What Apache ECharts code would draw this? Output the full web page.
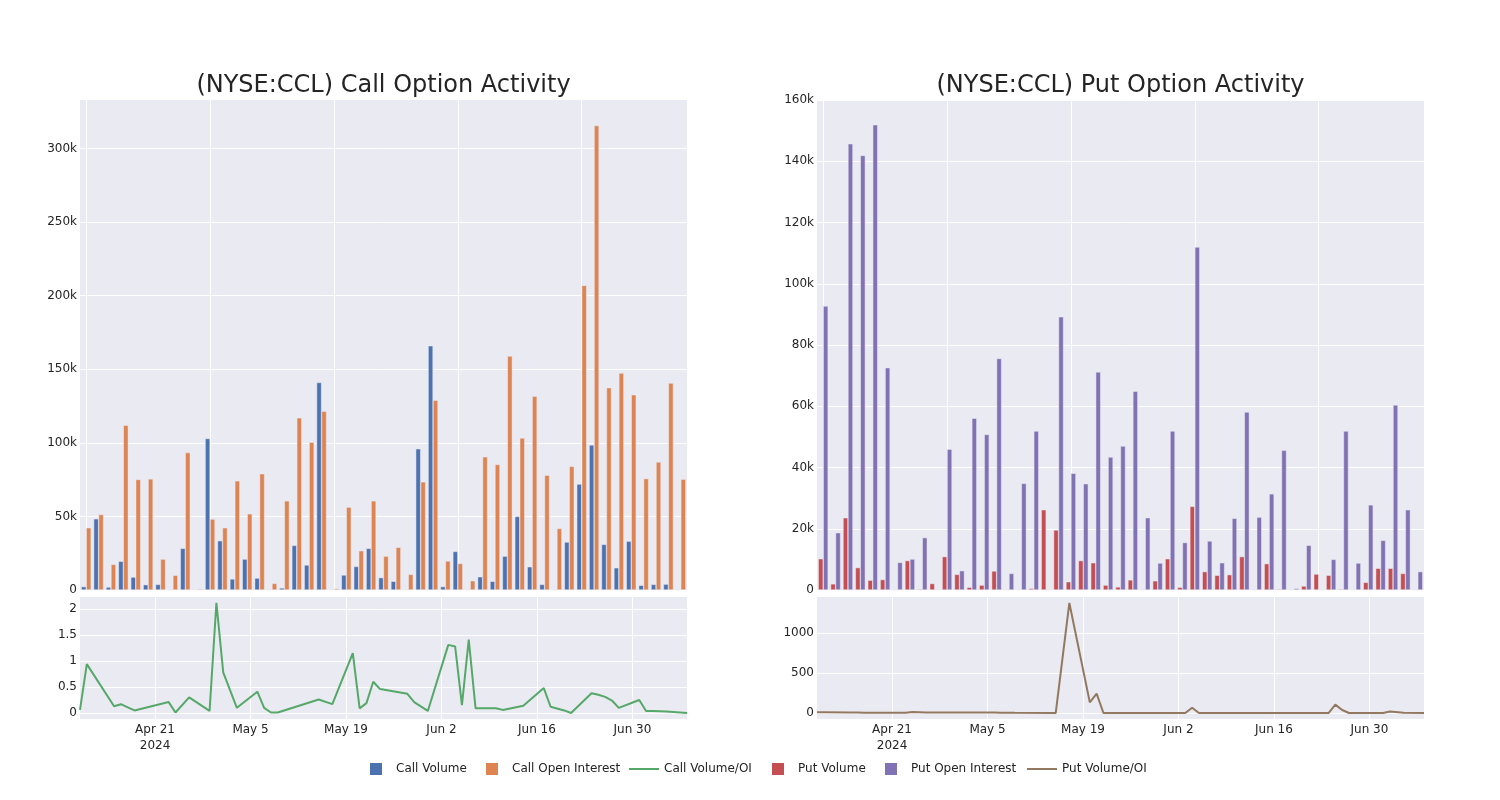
<!DOCTYPE html>
<html><head><meta charset="utf-8">
<script src="https://cdn.jsdelivr.net/npm/echarts@6/dist/echarts.min.js"></script>
<style>html,body{margin:0;padding:0;background:#fff}#c{width:1500px;height:800px}</style>
</head><body><div id="c"></div>
<script>
const dates = ['2024-04-10','2024-04-11','2024-04-15','2024-04-16','2024-04-17','2024-04-18','2024-04-23','2024-04-24','2024-04-26','2024-04-29','2024-04-30','2024-05-01','2024-05-03','2024-05-06','2024-05-07','2024-05-08','2024-05-09','2024-05-15','2024-05-17','2024-05-20','2024-05-21','2024-05-22','2024-05-23','2024-05-24','2024-05-28','2024-05-29','2024-05-31','2024-06-03','2024-06-04','2024-06-05','2024-06-06','2024-06-07','2024-06-10','2024-06-11','2024-06-14','2024-06-17','2024-06-18','2024-06-20','2024-06-21','2024-06-24','2024-06-25','2024-06-26','2024-06-27','2024-06-28','2024-07-01','2024-07-02','2024-07-03','2024-07-05','2024-07-08'];
const callVolume = [2300,48400,2000,19500,8800,3600,3800,0,28300,0,103000,33500,7500,21000,8100,100,1400,30300,17000,141000,100,10200,16000,28300,8400,5900,300,96000,166000,2300,26200,300,9000,5900,23000,50000,15800,3800,0,32600,72000,98600,31000,15100,33200,3200,3800,4000,0];
const callOpenInterest = [42300,51300,17400,112000,75100,75500,21000,10000,93400,700,48200,42300,74200,51800,79000,4500,60600,117000,100400,121500,900,56300,26700,60600,23000,29000,10600,73500,129000,19700,18000,6300,90500,85300,159000,103300,131600,78000,41800,84000,207000,315600,137500,147400,132700,75700,87000,140600,75300];
const callRatio = [0.06,0.94,0.13,0.17,0.11,0.05,0.21,0.01,0.30,0.04,2.12,0.78,0.10,0.41,0.10,0.01,0.01,0.26,0.17,1.15,0.09,0.19,0.60,0.46,0.37,0.21,0.04,1.31,1.28,0.15,1.41,0.09,0.09,0.06,0.14,0.48,0.12,0.05,0.0,0.38,0.35,0.31,0.24,0.10,0.25,0.04,0.04,0.03,0.0];
const putVolume = [10200,2000,23600,7300,3200,3400,0,9600,300,2100,10900,5100,900,1600,6200,0,100,500,26200,19600,2700,9600,8900,1600,1000,3300,100,3000,10200,900,27300,6000,4800,5000,10900,0,8600,300,0,1300,5200,4800,300,100,2500,7100,7100,5400,0];
const putOpenInterest = [92700,18700,145700,141900,151900,72600,9000,10100,17100,200,46000,6300,56100,50800,75600,5400,34800,51900,20,89200,38100,34700,71200,43400,47000,64900,23600,8800,51900,15500,112000,16000,8900,23400,58100,23800,31400,45600,500,14600,0,10000,51900,8800,27800,16200,60400,26200,6000];
const putRatio = [9,9,6,5,4,3,3,12,5,7,6,6,5,5,4,3,2,0,1380,134,243,0,0,0,0,0,0,0,67,0,0,0,0,0,0,0,0,0,0,0,105,38,0,0,0,0,20,3,0];
const dateTicks = ['2024-04-21','2024-05-05','2024-05-19','2024-06-02','2024-06-16','2024-06-30'];
const dateTickLabels = ['Apr 21\n2024','May 5','May 19','Jun 2','Jun 16','Jun 30'];
const callYTicks = [0,50000,100000,150000,200000,250000,300000];
const putYTicks = [0,20000,40000,60000,80000,100000,120000,140000,160000];
const callRatioTicks = [0,0.5,1,1.5,2];
const putRatioTicks = [0,500,1000];
const categoryGridTicks = [0,10,20,30,40];

const FONT = 'DejaVu Sans';
const TXT = 'rgb(36,36,36)';
const BG = 'rgb(234,234,242)';
const COL = {cv:'rgb(76,114,176)', coi:'rgb(221,132,82)', cr:'rgb(85,168,104)', pv:'rgb(196,78,82)', poi:'rgb(129,114,179)', pr:'rgb(147,120,96)'};
const ts = s => Date.parse(s + 'T00:00:00Z');
const tickTs = dateTicks.map(ts);
const kFmt = v => v === 0 ? '0' : (v/1000) + 'k';

const L = 80, W = 607, R2 = 817;
const grids = [
  {left:L, top:100, width:W, height:490},
  {left:L, top:597, width:W, height:122},
  {left:R2, top:100, width:W, height:490},
  {left:R2, top:597, width:W, height:122}
].map(g => Object.assign(g, {show:true, backgroundColor:BG, borderWidth:0, containLabel:false}));

const label = {color:TXT, fontFamily:FONT, fontSize:12};
const yLabel = Object.assign({}, label, {margin:3, padding:[4,0,0,0]});
const split = {show:true, lineStyle:{color:'#fff', width:1}};
const noLine = {show:false};

function catAxis(gi){ return {type:'category', gridIndex:gi, data:dates, axisLine:noLine, axisTick:{show:false}, axisLabel:{show:false}, splitLine:{show:false}}; }
function gridAxis(gi){ return {type:'value', gridIndex:gi, min:-0.5, max:dates.length-0.5, position:'bottom', axisLine:noLine, axisLabel:{show:false, customValues:categoryGridTicks}, axisTick:{show:false, customValues:categoryGridTicks}, splitLine:split}; }
function dateAxis(gi){ return {type:'value', gridIndex:gi, min:ts(dates[0]), max:ts(dates[dates.length-1]), axisLine:noLine,
  axisTick:{show:false, customValues:tickTs},
  axisLabel:Object.assign({}, label, {customValues:tickTs, margin:3, lineHeight:16, formatter:v => { const i = tickTs.indexOf(v); return i >= 0 ? dateTickLabels[i] : ''; }}),
  splitLine:split}; }

const xAxis = [catAxis(0), gridAxis(0), dateAxis(1), catAxis(2), gridAxis(2), dateAxis(3)];
const yAxis = [
  {type:'value', gridIndex:0, min:0, max:333000, axisLine:noLine, axisTick:{show:false, customValues:callYTicks}, axisLabel:Object.assign({}, yLabel, {customValues:callYTicks, formatter:kFmt}), splitLine:split},
  {type:'value', gridIndex:1, min:-0.115, max:2.23, axisLine:noLine, axisTick:{show:false, customValues:callRatioTicks}, axisLabel:Object.assign({}, yLabel, {customValues:callRatioTicks, formatter:v => String(v)}), splitLine:split},
  {type:'value', gridIndex:2, min:0, max:160000, axisLine:noLine, axisTick:{show:false, customValues:putYTicks}, axisLabel:Object.assign({}, yLabel, {customValues:putYTicks, formatter:kFmt}), splitLine:split},
  {type:'value', gridIndex:3, min:-75, max:1455, axisLine:noLine, axisTick:{show:false, customValues:putRatioTicks}, axisLabel:Object.assign({}, yLabel, {customValues:putRatioTicks, formatter:v => String(v)}), splitLine:split}
];

function bar(name, data, color, xi, yi){ return {name, type:'bar', xAxisIndex:xi, yAxisIndex:yi, data, barGap:'0%', barCategoryGap:'20%', itemStyle:{color, borderColor:BG, borderWidth:0.5}}; }
function line(name, vals, color, xi, yi){ return {name, type:'line', xAxisIndex:xi, yAxisIndex:yi, data:dates.map((d,i)=>[ts(d), vals[i]]), showSymbol:false, symbol:'none', lineStyle:{color, width:2}, itemStyle:{color}}; }

const series = [
  bar('Call Volume', callVolume, COL.cv, 0, 0),
  bar('Call Open Interest', callOpenInterest, COL.coi, 0, 0),
  line('Call Volume/OI', callRatio, COL.cr, 2, 1),
  bar('Put Volume', putVolume, COL.pv, 3, 2),
  bar('Put Open Interest', putOpenInterest, COL.poi, 3, 2),
  line('Put Volume/OI', putRatio, COL.pr, 5, 3)
];

const LINE_ICON = 'path://M0,0M0,5h30v2h-30zM30,12';
const legendItems = [
  {name:'Call Volume', left:370, sq:true},
  {name:'Call Open Interest', left:486, sq:true},
  {name:'Call Volume/OI', left:629, sq:false},
  {name:'Put Volume', left:772, sq:true},
  {name:'Put Open Interest', left:885, sq:true},
  {name:'Put Volume/OI', left:1027, sq:false}
];
const legend = legendItems.map(it => ({
  data:[{name:it.name, icon: it.sq ? 'rect' : LINE_ICON, itemStyle:{borderWidth:0}}], left:it.left, top:763, padding:0, orient:'horizontal',
  itemWidth: it.sq ? 12 : 30, itemHeight:12,
  itemStyle:{borderWidth:0},
  textStyle:{color:TXT, fontFamily:FONT, fontSize:12, padding:[0,0,0, it.sq ? 9 : 0]}
}));

const option = {
  animation:false,
  backgroundColor:'#fff',
  title:[
    {text:'(NYSE:CCL) Call Option Activity', left:L + W/2, top:74, textAlign:'center', padding:0, textStyle:{fontFamily:FONT, fontSize:24, fontWeight:'normal', color:TXT}},
    {text:'(NYSE:CCL) Put Option Activity', left:R2 + W/2, top:74, textAlign:'center', padding:0, textStyle:{fontFamily:FONT, fontSize:24, fontWeight:'normal', color:TXT}}
  ],
  grid:grids, xAxis, yAxis, series, legend
};
const chart = echarts.init(document.getElementById('c'), null, {renderer:'canvas'});
chart.setOption(option);
</script></body></html>
